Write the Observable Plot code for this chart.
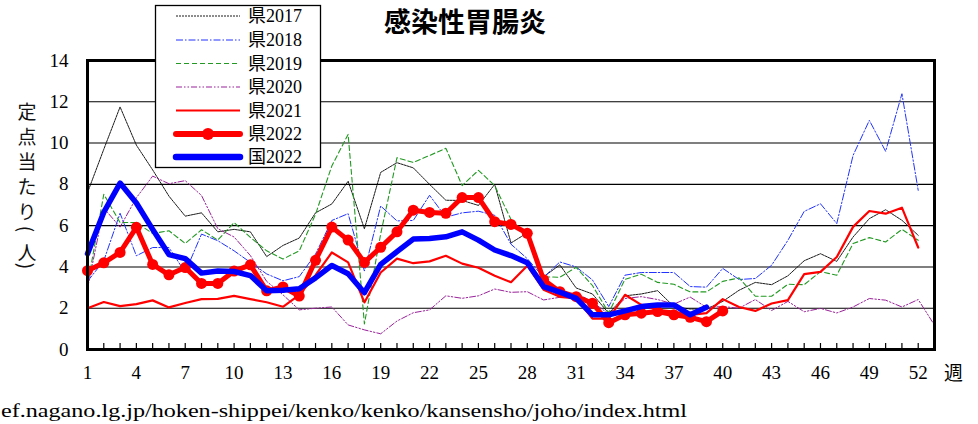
<!DOCTYPE html>
<html>
<head>
<meta charset="utf-8">
<script src="https://cdn.jsdelivr.net/npm/d3@7"></script>
<script src="https://cdn.jsdelivr.net/npm/@observablehq/plot@0.6"></script>
<style>
  html, body { margin: 0; padding: 0; background: #fff; }
  #chart { width: 978px; height: 424px; overflow: hidden; }
</style>
</head>
<body>
<div id="chart"></div>
<script>
const title = "感染性胃腸炎";
const yTitleChars = ["定", "点", "当", "た", "り", "(", "人", ")"];
const xUnit = "週";
const caption = "ef.nagano.lg.jp/hoken-shippei/kenko/kenko/kansensho/joho/index.html";

const seriesNames = ["県2017", "県2018", "県2019", "県2020", "県2021", "県2022", "国2022"];

const pref2017 = [7.6, 9.7, 11.75, 9.9, 8.7, 7.43, 6.46, 6.62, 5.7, 5.82, 5.7, 4.5, 5.04, 5.4, 6.62, 7.05, 8.15, 5.85, 8.58, 9.05, 8.8, 8.0, 7.23, 7.22, 6.98, 8.0, 5.16, 5.65, 3.52, 4.1, 2.98, 2.69, 1.75, 2.6, 2.69, 2.85, 2.08, 1.96, 1.96, 2.33, 2.87, 3.25, 3.14, 3.57, 4.3, 4.64, 4.27, 5.45, 6.34, 6.77, 6.26, 5.53];
const pref2018 = [3.3, 4.3, 6.6, 4.54, 4.94, 4.94, 3.74, 5.59, 5.27, 4.78, 4.22, 3.66, 3.33, 3.53, 4.62, 6.25, 6.58, 3.8, 6.95, 6.23, 6.25, 7.47, 6.41, 6.62, 6.7, 6.5, 5.1, 4.4, 3.5, 4.24, 4.0, 3.37, 2.08, 3.6, 3.73, 3.73, 3.73, 3.05, 3.02, 3.93, 3.39, 3.44, 4.08, 5.29, 6.69, 7.06, 6.1, 9.4, 11.1, 9.6, 12.39, 7.71];
const pref2019 = [3.1, 7.52, 6.15, 6.15, 5.62, 5.75, 5.14, 5.8, 5.3, 6.15, 5.43, 4.78, 4.38, 4.78, 6.55, 8.89, 10.42, 1.24, 5.6, 9.29, 9.06, 9.4, 9.75, 7.94, 8.68, 7.94, 6.3, 5.4, 3.52, 3.5, 3.98, 3.1, 1.78, 3.4, 3.65, 3.25, 3.16, 2.79, 2.79, 3.3, 3.47, 2.58, 2.58, 3.16, 3.14, 3.77, 3.6, 5.13, 5.42, 5.21, 5.82, 5.29];
const pref2020 = [2.95, 6.85, 5.93, 7.35, 8.4, 8.03, 8.18, 7.46, 5.85, 5.45, 4.55, 3.3, 2.65, 1.92, 2.0, 2.06, 1.19, 0.95, 0.76, 1.38, 1.78, 1.92, 2.6, 2.48, 2.6, 2.93, 2.77, 2.8, 2.4, 2.53, 2.75, 2.3, 1.72, 2.47, 2.56, 2.42, 2.2, 2.54, 2.04, 2.08, 2.0, 2.42, 1.89, 2.33, 1.83, 1.99, 1.77, 2.06, 2.47, 2.39, 2.06, 2.42, 1.18];
const pref2021 = [2.0, 2.3, 2.1, 2.2, 2.38, 2.04, 2.25, 2.44, 2.45, 2.6, 2.44, 2.29, 2.07, 2.65, 3.6, 4.7, 4.22, 2.28, 3.73, 4.4, 4.18, 4.27, 4.54, 4.16, 3.96, 3.57, 3.26, 4.06, 2.9, 2.55, 2.48, 1.5, 1.5, 2.65, 2.16, 1.92, 1.84, 1.68, 1.76, 2.44, 2.06, 1.87, 2.23, 2.39, 3.65, 3.76, 4.48, 5.94, 6.71, 6.58, 6.87, 4.94];
const pref2022 = [3.82, 4.2, 4.7, 5.92, 4.12, 3.62, 3.97, 3.2, 3.2, 3.8, 4.1, 2.84, 3.03, 2.59, 4.32, 5.93, 5.3, 4.22, 4.95, 5.7, 6.75, 6.64, 6.6, 7.36, 7.36, 6.19, 6.06, 5.63, 3.38, 2.8, 2.56, 2.24, 1.3, 1.68, 1.76, 1.84, 1.68, 1.56, 1.35, 1.87];
const national2022 = [4.64, 6.65, 8.06, 7.1, 5.82, 4.6, 4.4, 3.7, 3.8, 3.78, 3.58, 2.85, 2.87, 2.94, 3.47, 4.07, 3.67, 2.75, 4.12, 4.74, 5.35, 5.38, 5.46, 5.7, 5.3, 4.82, 4.55, 4.2, 3.05, 2.78, 2.48, 1.68, 1.68, 1.87, 2.08, 2.16, 2.16, 1.68, 2.05];

const yTicks = [0, 2, 4, 6, 8, 10, 12, 14];
const yGrid = [2, 4, 6, 8, 10, 12];
const xLabelTicks = [1, 4, 7, 10, 13, 16, 19, 22, 25, 28, 31, 34, 37, 40, 43, 46, 49, 52];
const xMinorTicks = d3.range(1, 54);

const styles = [
  {stroke: "#000000", strokeWidth: 0.9, dash: "2,1"},
  {stroke: "#2233ff", strokeWidth: 1, dash: "7,2,1.5,2"},
  {stroke: "#229922", strokeWidth: 1.1, dash: "5,3"},
  {stroke: "#992299", strokeWidth: 1, dash: "6,2,1.5,2,1.5,2"},
  {stroke: "#ff0000", strokeWidth: 2.2, dash: null},
  {stroke: "#ff0000", strokeWidth: 5, dash: null, dot: true},
  {stroke: "#0000ff", strokeWidth: 5.5, dash: null}
];
const allSeries = [pref2017, pref2018, pref2019, pref2020, pref2021, pref2022, national2022];
const toRows = (arr) => arr.map((v, i) => ({week: i + 1, value: v}));

const lineMarks = allSeries.map((arr, k) => Plot.line(toRows(arr), {
  x: "week", y: "value",
  stroke: styles[k].stroke,
  strokeWidth: styles[k].strokeWidth,
  strokeDasharray: styles[k].dash,
  strokeLinejoin: "round",
  strokeLinecap: "round"
}));

const chart = Plot.plot({
  width: 978,
  height: 424,
  marginLeft: 87,
  marginRight: 44,
  marginTop: 60,
  marginBottom: 75,
  style: {fontFamily: "'Liberation Serif', 'Noto Sans CJK JP', serif", fontSize: "18px", background: "#fff", color: "#000"},
  x: {type: "linear", domain: [1, 53], label: null},
  y: {domain: [0, 14], label: null},
  marks: [
    Plot.ruleY(yGrid, {stroke: "#000", strokeWidth: 1.1}),
    ...lineMarks.slice(0, 6),
    Plot.dot(toRows(pref2022), {x: "week", y: "value", r: 5.5, fill: "#ff0000", stroke: "none"}),
    lineMarks[6],
    Plot.axisX({ticks: xMinorTicks, tickSize: 6, dy: -6, tickFormat: () => "", stroke: "#000", strokeWidth: 1.2, label: null}),
    Plot.axisX({ticks: xLabelTicks, tickSize: 0, tickPadding: 16, tickFormat: d => String(d), fontSize: 19, label: null}),
    Plot.axisY({ticks: yTicks, tickSize: 0, tickPadding: 19, tickFormat: d => String(d), fontSize: 19, label: null}),
    Plot.frame({stroke: "#000", strokeWidth: 3})
  ]
});

document.getElementById("chart").appendChild(chart);

const svg = d3.select(chart);
const cjk = "'Noto Sans CJK JP', sans-serif";

// title
svg.append("text")
  .attr("x", 465).attr("y", 32)
  .attr("text-anchor", "middle")
  .attr("font-family", cjk)
  .attr("font-weight", "bold")
  .attr("font-size", 27)
  .attr("fill", "#000")
  .text(title);

// vertical y title
const yPos = [110, 135.5, 160.5, 185.5, 210.5, 229, 251.5, 266];
yTitleChars.forEach((c, i) => {
  const t = svg.append("text")
    .attr("text-anchor", "middle")
    .attr("dominant-baseline", "central")
    .attr("font-family", cjk)
    .attr("font-size", 19)
    .attr("fill", "#111")
    .text(c);
  if (c === "(" || c === ")") {
    t.attr("transform", `translate(27,${yPos[i]}) rotate(90)`);
  } else {
    t.attr("x", 27).attr("y", yPos[i]);
  }
});

// x unit
svg.append("text")
  .attr("x", 944).attr("y", 380)
  .attr("text-anchor", "start")
  .attr("font-family", cjk)
  .attr("font-size", 19)
  .attr("fill", "#000")
  .text(xUnit);

// caption
svg.append("text")
  .attr("x", 1).attr("y", 417)
  .attr("text-anchor", "start")
  .attr("font-family", "'Liberation Serif', serif")
  .attr("font-size", 19)
  .attr("textLength", 686)
  .attr("lengthAdjust", "spacingAndGlyphs")
  .attr("fill", "#000")
  .text(caption);

// legend
const lg = svg.append("g");
lg.append("rect")
  .attr("x", 155.5).attr("y", 5.5)
  .attr("width", 165).attr("height", 162)
  .attr("fill", "#fff").attr("stroke", "#000").attr("stroke-width", 1.3);
const rowY = [16, 40, 63.5, 87, 110.5, 134, 157];
seriesNames.forEach((name, k) => {
  const st = styles[k];
  const y = rowY[k];
  const legendWidth = k >= 5 ? st.strokeWidth + 1 : st.strokeWidth;
  lg.append("line")
    .attr("x1", 176).attr("x2", 240).attr("y1", y).attr("y2", y)
    .attr("stroke", st.stroke)
    .attr("stroke-width", legendWidth)
    .attr("stroke-linecap", k >= 5 ? "round" : "butt")
    .attr("stroke-dasharray", st.dash);
  if (st.dot) {
    lg.append("circle").attr("cx", 208).attr("cy", y).attr("r", 6).attr("fill", st.stroke);
  }
  lg.append("text")
    .attr("x", 248).attr("y", y)
    .attr("text-anchor", "start")
    .attr("dominant-baseline", "central")
    .attr("font-family", "'Liberation Serif', 'Noto Sans CJK JP', serif")
    .attr("font-size", 18)
    .attr("fill", "#000")
    .text(name);
});
</script>
</body>
</html>
